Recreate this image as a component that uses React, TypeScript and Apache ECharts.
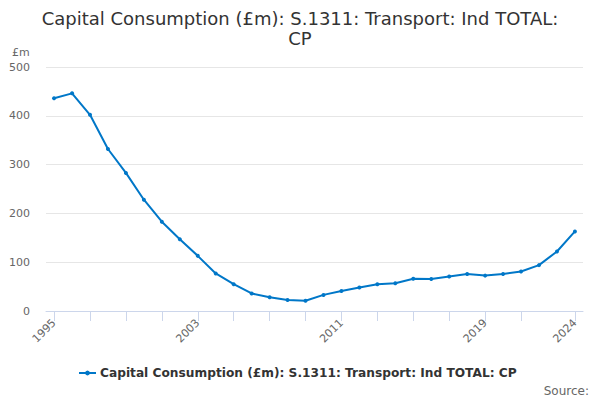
import React, { useEffect, useRef } from "react";
import * as echarts from "echarts";

const years = [1995,1996,1997,1998,1999,2000,2001,2002,2003,2004,2005,2006,2007,2008,2009,2010,2011,2012,2013,2014,2015,2016,2017,2018,2019,2020,2021,2022,2023,2024];
const values = [436,446,402,332,283,228,183,147,113,77,55,36,28,22.5,21,33,41,48,55,57,66,65.5,70.5,76,72.5,76,81,94,122,163];
const tickYears = [1995,1997,1999,2001,2003,2005,2007,2009,2011,2013,2015,2017,2019,2021,2024];
const labelYears = [1995,2003,2011,2019,2024];
const seriesName = "Capital Consumption (£m): S.1311: Transport: Ind TOTAL: CP";
const titleText = "Capital Consumption (£m): S.1311: Transport: Ind TOTAL:\nCP";

const FONT = "DejaVu Sans";

export default function App() {
  const ref = useRef<HTMLDivElement>(null);
  useEffect(() => {
    const chart = echarts.init(ref.current!, null, { renderer: "svg" });
    chart.setOption({
      animation: false,
      textStyle: { fontFamily: FONT },
      title: {
        text: titleText,
        left: "center",
        top: 8,
        padding: 0,
        textStyle: { fontFamily: FONT, fontSize: 18, fontWeight: "normal", color: "#333333", lineHeight: 20 },
      },
      grid: { left: 46, right: 17, top: 67, bottom: 89, containLabel: false },
      xAxis: {
        type: "value",
        min: 1994.55,
        max: 2024.45,
        splitLine: { show: false },
        axisLine: { show: true, lineStyle: { color: "#ccd6eb", width: 1 } },
        axisTick: { show: true, length: 10, lineStyle: { color: "#ccd6eb" }, customValues: tickYears },
        axisLabel: {
          customValues: labelYears,
          rotate: 45,
          color: "#666666",
          fontSize: 11,
          fontFamily: FONT,
          margin: 10,
          formatter: (v: number) => String(Math.round(v)),
        },
      },
      yAxis: {
        type: "value",
        min: 0,
        max: 500,
        interval: 100,
        axisLine: { show: false },
        axisTick: { show: false },
        splitLine: { lineStyle: { color: "#e6e6e6" } },
        axisLabel: { color: "#666666", fontSize: 11, fontFamily: FONT, margin: 16 },
      },
      legend: {
        left: 78,
        top: 367,
        padding: 0,
        itemWidth: 17,
        itemHeight: 6,
        itemGap: 4,
        textStyle: { fontFamily: FONT, fontSize: 12.2, fontWeight: "bold", color: "#333333", padding: [0, 0, 0, -1] },
        data: [seriesName],
      },
      graphic: [
        { type: "text", left: 12, top: 47, style: { text: "£m", fill: "#666666", font: `11px ${FONT}` } },
        { type: "text", right: 11, top: 385, style: { text: "Source:", fill: "#666666", font: `12px ${FONT}` } },
      ],
      series: [
        {
          name: seriesName,
          type: "line",
          data: years.map((y, i) => [y, values[i]]),
          color: "#0077c8",
          lineStyle: { width: 2 },
          symbol: "circle",
          symbolSize: 4,
        },
      ],
    });
    return () => chart.dispose();
  }, []);
  return <div ref={ref} style={{ width: 600, height: 400, position: "absolute", left: 0, top: 0 }} />;
}
